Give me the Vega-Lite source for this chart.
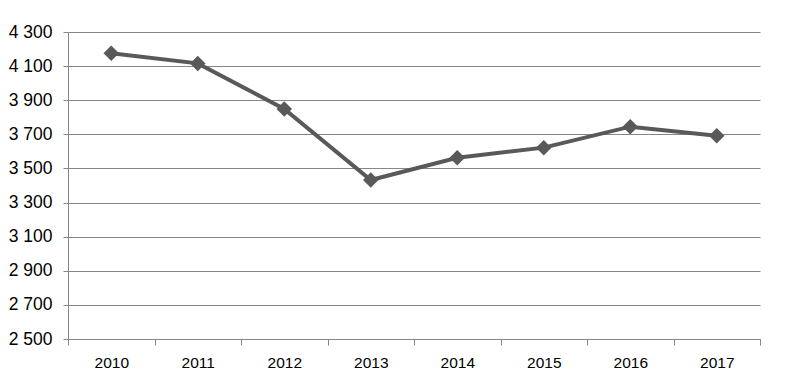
{
  "$schema": "https://vega.github.io/schema/vega-lite/v6.json",
  "width": 692,
  "height": 307,
  "autosize": {"type": "none"},
  "padding": {"left": 68, "top": 32, "right": 34, "bottom": 44},
  "background": "white",
  "data": {"values": [
    {"year": "2010", "value": 4175},
    {"year": "2011", "value": 4116},
    {"year": "2012", "value": 3849},
    {"year": "2013", "value": 3432},
    {"year": "2014", "value": 3563},
    {"year": "2015", "value": 3622},
    {"year": "2016", "value": 3745},
    {"year": "2017", "value": 3692}
  ]},
  "config": {
    "view": {"stroke": null},
    "axis": {"domainColor": "#868686", "gridColor": "#868686", "tickColor": "#868686", "labelColor": "#000000"}
  },
  "mark": {"type": "line", "color": "#595959", "strokeWidth": 4, "point": {"shape": "diamond", "size": 240, "filled": true, "color": "#595959", "opacity": 1}},
  "encoding": {
    "x": {
      "field": "year", "type": "ordinal",
      "scale": {"paddingInner": 0, "paddingOuter": 0},
      "axis": {"title": null, "labelAngle": 0, "tickBand": "extent", "grid": false, "ticks": true, "tickSize": 6, "labelFont": "Liberation Sans", "labelFontSize": 15.5, "labelPadding": 10, "domainWidth": 1}
    },
    "y": {
      "field": "value", "type": "quantitative",
      "scale": {"domain": [2500, 4300], "nice": false, "zero": false},
      "axis": {"title": null, "values": [2500, 2700, 2900, 3100, 3300, 3500, 3700, 3900, 4100, 4300], "grid": true, "tickSize": 5, "labelFont": "Liberation Sans", "labelFontSize": 17.5, "labelPadding": 11, "labelExpr": "replace(format(datum.value, ','), ',', ' ')"}
    }
  }
}
